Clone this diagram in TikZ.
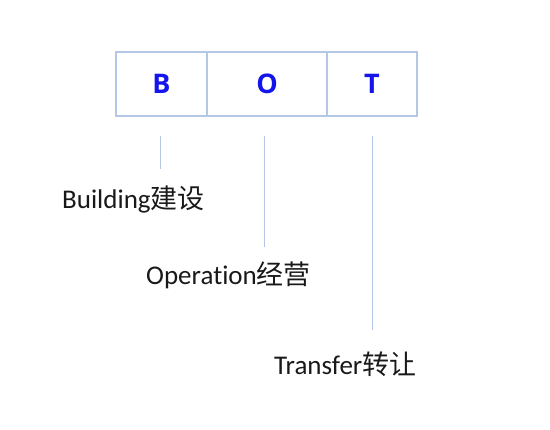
\documentclass[tikz,border=0pt]{standalone}
\usepackage{fontspec}
\setmainfont{Carlito}[Ligatures=NoCommon]
\newfontfamily\cjk{Noto Sans CJK SC}
\newfontfamily\boldsans{Open Sans}
\definecolor{lineblue}{RGB}{180,199,231}
\definecolor{letterblue}{RGB}{20,20,235}
\begin{document}
\begin{tikzpicture}[x=1pt,y=-1pt,
  cell/.style={draw=lineblue,line width=1.5pt,minimum height=64pt,inner sep=0pt,
    font=\boldsans\fontsize{27}{27}\selectfont\bfseries,text=letterblue},
  lbl/.style={anchor=base west,inner sep=0pt,font=\fontsize{27}{27}\selectfont,text=black!90},
  conn/.style={draw=lineblue,line width=1pt}]
\useasboundingbox (0,0) rectangle (550,430);
\node[cell,minimum width=91pt] (b) at (161.5,84) {B};
\node[cell,minimum width=120pt] (o) at (267,84) {O};
\node[cell,minimum width=90pt] (t) at (372,84) {T};
\node[lbl] (lb) at (62,209) {Building{\cjk 建设}};
\node[lbl] (lo) at (146,285) {Operation{\cjk 经营}};
\node[lbl] (lt) at (274,375) {Transfer{\cjk 转让}};
\coordinate (b1) at (160.5,136);
\coordinate (b2) at (160.5,169);
\coordinate (o1) at (264.5,136);
\coordinate (o2) at (264.5,247);
\coordinate (t1) at (372,136);
\coordinate (t2) at (372,330);
\draw[conn] (b1) -- (b2);
\draw[conn] (o1) -- (o2);
\draw[conn] (t1) -- (t2);
\end{tikzpicture}
\end{document}
